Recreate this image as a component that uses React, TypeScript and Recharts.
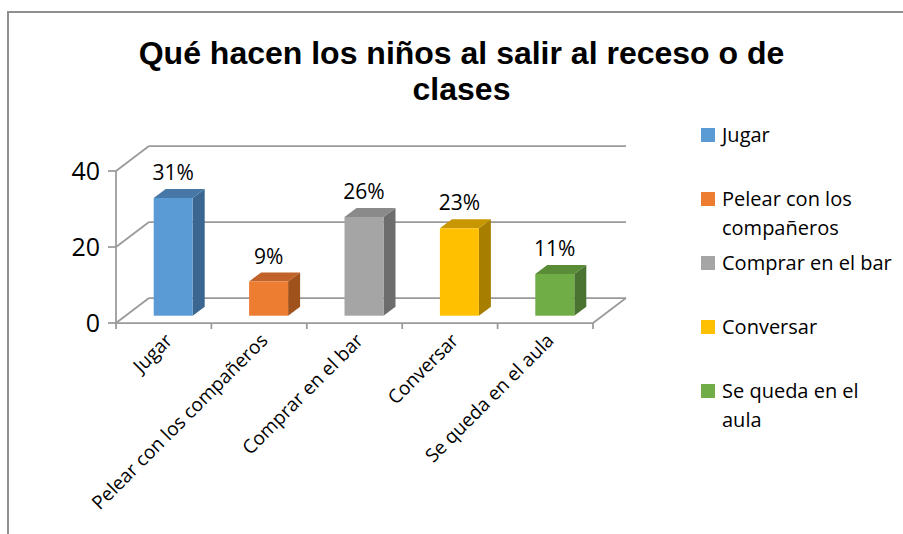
import React from "react";
import {
	Bar,
	BarChart,
	CartesianGrid,
	Cell,
	LabelList,
	Legend,
	XAxis,
	YAxis,
} from "recharts";

const CATEGORIES = [
	"Jugar",
	"Pelear con los compañeros",
	"Comprar en el bar",
	"Conversar",
	"Se queda en el aula",
];
const VALUES = [31, 9, 26, 23, 11];
const Y_TICKS = [0, 20, 40];

const FRONT = ["#5b9bd5", "#ed7d31", "#a5a5a5", "#ffc000", "#70ad47"];
const TOP = ["#4677a6", "#c0622a", "#8a8a8a", "#c89600", "#5a8b37"];
const SIDE = ["#3a6690", "#a0521c", "#6d6d6d", "#a87e00", "#4a7230"];

const data = CATEGORIES.map((name, i) => ({ name, value: VALUES[i] }));

const W = 903;
const H = 534;
const PLOT_LEFT = 116;
const PLOT_RIGHT = 593;
const PLOT_TOP = 171;
const PLOT_BOTTOM = 323;
const Y_AXIS_W = 60;
const X_AXIS_H = 100;
const BAND = (PLOT_RIGHT - PLOT_LEFT) / CATEGORIES.length;

// depth of the 3d wall / floor
const DX = 33;
const DY = -25;
// front face of the bars sits a bit into the depth
const FX = 9.7;
const FY = -7.3;
// bar depth
const SX = 12;
const SY = -9;

const LINE = "#9a9a9a";
const FONT = "'Open Sans', 'Noto Sans', sans-serif";

const wallLine = (props: any) => {
	const { x1, x2, y1 } = props;
	const floor = Math.abs(y1 - PLOT_BOTTOM) < 1;
	return (
		<g key={props.key ?? `wall-${y1}`} stroke={LINE} strokeWidth={1.75}>
			<line x1={x1} y1={y1} x2={x1 + DX} y2={y1 + DY} />
			<line x1={x1 + DX} y1={y1 + DY} x2={x2 + DX} y2={y1 + DY} />
			{floor && <line x1={x2} y1={y1} x2={x2 + DX} y2={y1 + DY} />}
		</g>
	);
};

const Box = (props: any) => {
	const { x, y, width, height, index } = props;
	const fx = x + FX;
	const fy = y + FY;
	return (
		<g>
			<polygon
				points={`${fx + width},${fy} ${fx + width + SX},${fy + SY} ${fx + width + SX},${fy + height + SY} ${fx + width},${fy + height}`}
				fill={SIDE[index]}
			/>
			<polygon
				points={`${fx},${fy} ${fx + width},${fy} ${fx + width + SX},${fy + SY} ${fx + SX},${fy + SY}`}
				fill={TOP[index]}
			/>
			<rect x={fx} y={fy} width={width} height={height} fill={FRONT[index]} />
		</g>
	);
};

const BarLabel = (props: any) => {
	const { x, y, width, value } = props;
	return (
		<text
			x={x + FX + width / 2}
			y={y + FY + SY - 9}
			textAnchor="middle"
			fontFamily={FONT}
			fontSize={21}
			fill="#000"
		>
			{value}%
		</text>
	);
};

const CategoryTick = (props: any) => {
	const { x, y, payload, index } = props;
	const left = x - BAND / 2;
	const right = x + BAND / 2;
	const ax = x + 5;
	const ay = y + 14;
	return (
		<g>
			<line x1={left} y1={y} x2={left} y2={y + 6} stroke={LINE} strokeWidth={1.75} />
			{index === CATEGORIES.length - 1 && (
				<line x1={right} y1={y} x2={right} y2={y + 6} stroke={LINE} strokeWidth={1.75} />
			)}
			<text
				x={ax}
				y={ay}
				transform={`rotate(-45, ${ax}, ${ay})`}
				textAnchor="end"
				dy="0.35em"
				fontFamily={FONT}
				fontSize={19}
				fill="#000"
			>
				{payload.value}
			</text>
		</g>
	);
};

const renderLegend = () => (
	<div style={{ width: 200, fontFamily: FONT, color: "#000" }}>
		{CATEGORIES.map((c, i) => (
			<div key={c} style={{ display: "flex", alignItems: "flex-start", height: 64 }}>
				<span
					style={{
						width: 14,
						height: 14,
						marginTop: 7.5,
						background: FRONT[i],
						flexShrink: 0,
					}}
				/>
				<span style={{ marginLeft: 7, fontSize: 20, lineHeight: "29px", width: 180 }}>
					{c}
				</span>
			</div>
		))}
	</div>
);

export default function App() {
	return (
		<div
			style={{
				position: "absolute",
				left: 0,
				top: 0,
				width: W,
				height: H,
				overflow: "hidden",
				background: "#fff",
			}}
		>
			<div
				style={{
					position: "absolute",
					left: 7,
					top: 11,
					width: 1000,
					height: 1000,
					border: "2px solid #8f8f8f",
				}}
			/>
			<div
				style={{
					position: "absolute",
					left: 10,
					top: 35,
					width: W,
					textAlign: "center",
					fontFamily: "'Liberation Sans', Arial, sans-serif",
					fontWeight: "bold",
					fontSize: 32,
					lineHeight: "36px",
					color: "#000",
				}}
			>
				Qué hacen los niños al salir al receso o de
				<br />
				clases
			</div>
			<div style={{ position: "absolute", left: 0, top: 0 }}>
				<BarChart
					width={W}
					height={H}
					data={data}
					margin={{
						top: PLOT_TOP,
						left: PLOT_LEFT - Y_AXIS_W,
						right: W - PLOT_RIGHT,
						bottom: H - PLOT_BOTTOM - X_AXIS_H,
					}}
				>
					<CartesianGrid vertical={false} horizontal={wallLine} />
					<XAxis
						dataKey="name"
						interval={0}
						height={X_AXIS_H}
						tickLine={false}
						tickSize={0}
						tickMargin={0}
						axisLine={{ stroke: LINE, strokeWidth: 1.75 }}
						tick={<CategoryTick />}
					/>
					<YAxis
						width={Y_AXIS_W}
						domain={[0, 40]}
						ticks={Y_TICKS}
						interval={0}
						tickSize={8}
						tickMargin={8}
						axisLine={{ stroke: LINE, strokeWidth: 1.75 }}
						tickLine={{ stroke: LINE, strokeWidth: 1.75 }}
						tick={{ fill: "#000", fontSize: 25, fontFamily: FONT }}
					/>
					<Legend
						layout="vertical"
						align="center"
						verticalAlign="middle"
						content={renderLegend}
						wrapperStyle={{ left: 701, top: 120, width: 200 }}
					/>
					<Bar dataKey="value" barSize={39} shape={<Box />} isAnimationActive={false}>
						{data.map((d, i) => (
							<Cell key={d.name} fill={FRONT[i]} />
						))}
						<LabelList dataKey="value" content={<BarLabel />} />
					</Bar>
				</BarChart>
			</div>
		</div>
	);
}
